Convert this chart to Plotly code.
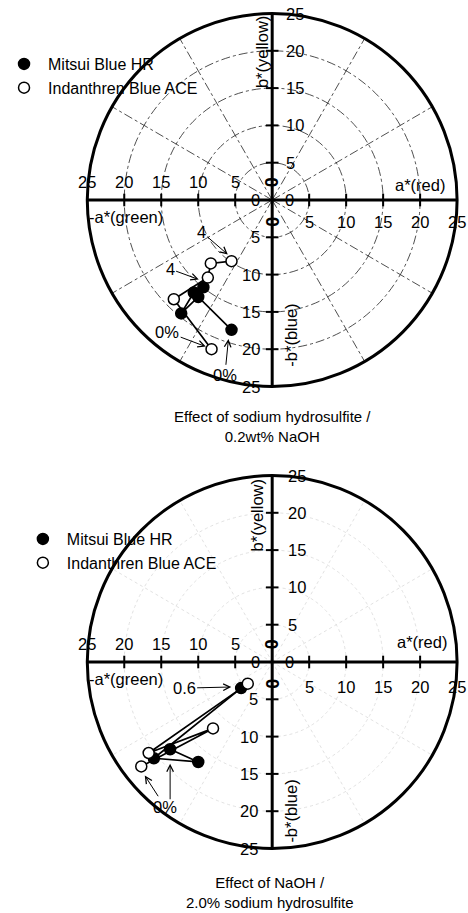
import numpy as np
import plotly.graph_objects as go

# ---------------- data ----------------
SERIES_NAMES = ["Mitsui Blue HR", "Indanthren Blue ACE"]

# Top chart: effect of sodium hydrosulfite / 0.2wt% NaOH  (a*, b*)
top_filled_a = [-5.5, -10.0, -12.3, -10.6, -9.3]
top_filled_b = [-17.4, -13.0, -15.2, -12.4, -11.7]
top_open_a = [-8.2, -13.3, -8.7, -8.3, -5.5]
top_open_b = [-20.0, -13.3, -10.4, -8.5, -8.2]

# Bottom chart: effect of NaOH / 2.0% sodium hydrosulfite  (a*, b*)
bot_filled_a = [-13.8, -10.0, -16.0, -4.2]
bot_filled_b = [-11.7, -13.4, -12.9, -3.5]
bot_open_a = [-17.7, -8.0, -16.7, -3.3]
bot_open_b = [-14.0, -8.9, -12.2, -2.9]

TICK_VALUES = [5, 10, 15, 20, 25]
GRID_RADII = [5, 10, 15, 20]
OUTER_RADIUS = 25
SPOKE_ANGLES = [30, 60, 120, 150, 210, 240, 300, 330]

TITLES = ["Effect of sodium hydrosulfite /<br>0.2wt% NaOH",
          "Effect of NaOH /<br>2.0% sodium hydrosulfite"]

FONT = "Arial, Liberation Sans, sans-serif"
PX = 7.46  # pixels per unit

fig = go.Figure()
shapes = []
annotations = []


def add_chart(xr, yr, legend_name, fa, fb, oa, ob, grid_style, lab, arrows, title, title_pos):
    gcol, gdash, gw = grid_style
    for r in GRID_RADII:
        shapes.append(dict(type="circle", xref=xr, yref=yr, x0=-r, x1=r, y0=-r, y1=r,
                           line=dict(color=gcol, width=gw, dash=gdash), layer="below"))
    for ang in SPOKE_ANGLES:
        t = np.deg2rad(ang)
        shapes.append(dict(type="line", xref=xr, yref=yr, x0=0, y0=0,
                           x1=OUTER_RADIUS * np.cos(t), y1=OUTER_RADIUS * np.sin(t),
                           line=dict(color=gcol, width=gw, dash=gdash), layer="below"))
    shapes.append(dict(type="circle", xref=xr, yref=yr, x0=-OUTER_RADIUS, x1=OUTER_RADIUS,
                       y0=-OUTER_RADIUS, y1=OUTER_RADIUS, line=dict(color="black", width=3)))
    shapes.append(dict(type="line", xref=xr, yref=yr, x0=-OUTER_RADIUS, x1=OUTER_RADIUS, y0=0, y1=0,
                       line=dict(color="black", width=3)))
    shapes.append(dict(type="line", xref=xr, yref=yr, y0=-OUTER_RADIUS, y1=OUTER_RADIUS, x0=0, x1=0,
                       line=dict(color="black", width=3)))
    tv = [v for v in TICK_VALUES if v < OUTER_RADIUS]
    fig.add_trace(go.Scatter(x=[-v for v in tv] + tv, y=[0] * (2 * len(tv)), mode="markers",
                             xaxis=xr, yaxis=yr, showlegend=False, hoverinfo="skip",
                             marker=dict(symbol="line-ns", size=9, line=dict(color="black", width=2))))
    fig.add_trace(go.Scatter(y=[-v for v in tv] + tv, x=[0] * (2 * len(tv)), mode="markers",
                             xaxis=xr, yaxis=yr, showlegend=False, hoverinfo="skip",
                             marker=dict(symbol="line-ew", size=9, line=dict(color="black", width=2))))
    tf = dict(family=FONT, size=16.5, color="black")
    for v in TICK_VALUES:
        annotations.append(dict(xref=xr, yref=yr, x=-v, y=lab["hl"], text=str(v), showarrow=False, font=tf))
        annotations.append(dict(xref=xr, yref=yr, x=v, y=lab["hr"], text=str(v), showarrow=False, font=tf))
        annotations.append(dict(xref=xr, yref=yr, x=lab["vu"], y=v, text=str(v), showarrow=False,
                                font=tf, xanchor="left"))
        annotations.append(dict(xref=xr, yref=yr, x=lab["vd"], y=-v, text=str(v), showarrow=False,
                                font=tf, xanchor="right"))
    annotations.append(dict(xref=xr, yref=yr, x=-2.3, y=0, text="0", showarrow=False, font=tf))
    annotations.append(dict(xref=xr, yref=yr, x=2.3, y=0, text="0", showarrow=False, font=tf))
    bf = dict(family=FONT, size=18, color="black")
    annotations.append(dict(xref=xr, yref=yr, x=0, y=2.4, text="<b>0</b>", showarrow=False,
                            font=bf, textangle=-90))
    annotations.append(dict(xref=xr, yref=yr, x=0, y=-2.9, text="<b>0</b>", showarrow=False,
                            font=bf, textangle=-90))
    for txt, (x, y), ang in [("a*(red)", lab["ared"], 0), ("-a*(green)", lab["agreen"], 0),
                             ("b*(yellow)", lab["byellow"], -90), ("-b*(blue)", lab["bblue"], -90)]:
        annotations.append(dict(xref=xr, yref=yr, x=x, y=y, text=txt, showarrow=False,
                                font=tf, textangle=ang))
    fig.add_trace(go.Scatter(x=fa, y=fb, mode="lines+markers", xaxis=xr, yaxis=yr, showlegend=False,
                             line=dict(color="black", width=1.7),
                             marker=dict(symbol="circle", size=11, color="black",
                                         line=dict(color="black", width=1.5))))
    fig.add_trace(go.Scatter(x=oa, y=ob, mode="lines+markers", xaxis=xr, yaxis=yr, showlegend=False,
                             line=dict(color="black", width=1.7),
                             marker=dict(symbol="circle", size=11, color="white",
                                         line=dict(color="black", width=1.5))))
    fig.add_trace(go.Scatter(x=[None], y=[None], mode="markers", name=SERIES_NAMES[0],
                             xaxis=xr, yaxis=yr, legend=legend_name,
                             marker=dict(symbol="circle", size=11, color="black",
                                         line=dict(color="black", width=1.5))))
    fig.add_trace(go.Scatter(x=[None], y=[None], mode="markers", name=SERIES_NAMES[1],
                             xaxis=xr, yaxis=yr, legend=legend_name,
                             marker=dict(symbol="circle", size=11, color="white",
                                         line=dict(color="black", width=1.5))))
    for txt, (tx, ty), (hx, hy) in arrows:
        annotations.append(dict(xref=xr, yref=yr, axref=xr, ayref=yr, x=hx, y=hy, ax=tx, ay=ty,
                                text=txt, showarrow=True, arrowhead=5, arrowsize=1.3, arrowwidth=1,
                                arrowcolor="black", font=tf, standoff=1))
    annotations.append(dict(xref=xr, yref=yr, x=title_pos[0], y=title_pos[1], text=title,
                            showarrow=False, font=dict(family=FONT, size=15, color="black")))


add_chart("x", "y", "legend", top_filled_a, top_filled_b, top_open_a, top_open_b,
          ("#222222", "dashdot", 0.8),
          dict(hl=2.4, hr=-2.95, vu=1.6, vd=-1.4, ared=(20.0, 2.0), agreen=(-19.8, -2.3),
               byellow=(-1.4, 19.8), bblue=(2.5, -18.1)),
          [("4", (-9.5, -4.3), (-5.9, -7.4)), ("4", (-13.8, -9.25), (-9.8, -10.7)),
           ("0%", (-14.2, -17.7), (-8.85, -19.7)), ("0%", (-6.4, -23.5), (-5.9, -18.5))],
          TITLES[0], (0.1, -30.4))

add_chart("x2", "y2", "legend2", bot_filled_a, bot_filled_b, bot_open_a, bot_open_b,
          ("#e2e2e2", "dot", 1),
          dict(hl=2.4, hr=-3.3, vu=1.9, vd=-1.7, ared=(20.3, 2.7), agreen=(-19.8, -2.3),
               byellow=(-2.0, 19.7), bblue=(2.6, -20.0)),
          [("0.6", (-11.9, -3.5), (-5.4, -3.35)), ("0%", (-14.5, -19.4), (-17.3, -15.1)),
           ("", (-13.8, -18.6), (-13.8, -13.5))],
          TITLES[1], (-0.3, -30.9))

xr = [-270.5 / PX, 197.5 / PX]
split = 1 - 450 / 913
ax_common = dict(visible=False, showgrid=False, zeroline=False, fixedrange=True)
fig.update_layout(
    width=468, height=913, margin=dict(l=0, r=0, t=0, b=0),
    paper_bgcolor="white", plot_bgcolor="white",
    xaxis=dict(range=xr, domain=[0, 1], anchor="y", **ax_common),
    yaxis=dict(range=[-250 / PX, 200 / PX], domain=[split, 1], anchor="x", **ax_common),
    xaxis2=dict(range=xr, domain=[0, 1], anchor="y2", **ax_common),
    yaxis2=dict(range=[-251 / PX, 212 / PX], domain=[0, split], anchor="x2", **ax_common),
    shapes=shapes, annotations=annotations,
    legend=dict(x=-4 / 468, y=1 - 47 / 913, xanchor="left", yanchor="top", bgcolor="rgba(0,0,0,0)",
                font=dict(family=FONT, size=16, color="black"), tracegroupgap=0, itemwidth=38),
    legend2=dict(x=15 / 468, y=1 - 522 / 913, xanchor="left", yanchor="top", bgcolor="rgba(0,0,0,0)",
                 font=dict(family=FONT, size=16, color="black"), tracegroupgap=0, itemwidth=38),
    showlegend=True,
)
fig.write_html("out.html", post_script="document.body.style.margin='0px';",
               config={"displayModeBar": False})
